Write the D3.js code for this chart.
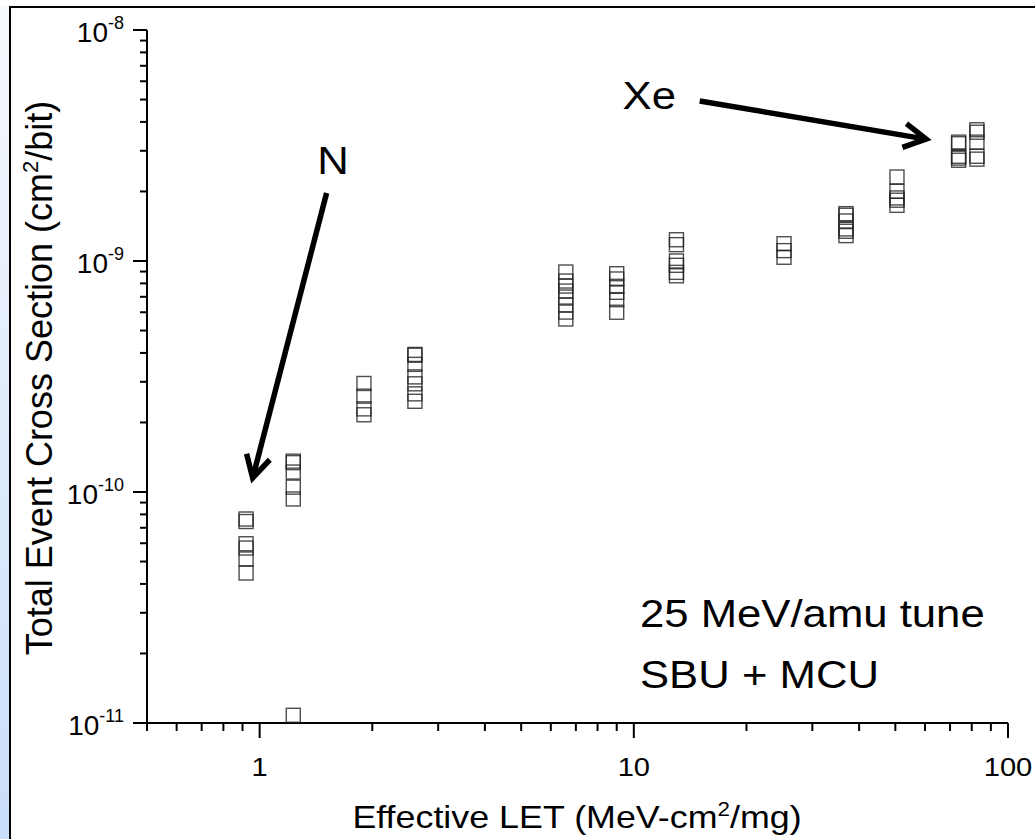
<!DOCTYPE html>
<html>
<head>
<meta charset="utf-8">
<script src="https://cdn.jsdelivr.net/npm/d3@7"></script>
<style>
  body { margin: 0; background: #fff; }
  svg { display: block; font-family: Arial, "Liberation Sans", sans-serif; }
</style>
</head>
<body>
<svg id="chart"></svg>
<script>
// LET column for each group of measurements (MeV-cm2/mg)
const letValues = [0.92, 1.23, 1.90, 2.60, 6.58, 9.0, 13.0, 25.2, 36.9, 50.5, 73.8, 82.6];

// cross sections measured at each LET (cm2/bit)
const crossSections = [
  [7.64e-11, 7.45e-11, 5.97e-11, 5.72e-11, 5.13e-11, 4.46e-11],
  [1.36e-10, 1.34e-10, 1.22e-10, 1.05e-10, 9.33e-11, 1.08e-11],
  [2.95e-10, 2.60e-10, 2.29e-10, 2.16e-10],
  [3.94e-10, 3.91e-10, 3.57e-10, 3.15e-10, 2.94e-10, 2.66e-10, 2.47e-10],
  [8.96e-10, 8.19e-10, 7.79e-10, 7.41e-10, 6.98e-10, 6.45e-10, 6.01e-10, 5.61e-10],
  [8.81e-10, 8.36e-10, 7.77e-10, 7.32e-10, 6.80e-10, 6.00e-10],
  [1.236e-9, 1.177e-9, 1.00e-9, 9.58e-10, 8.93e-10, 8.63e-10],
  [1.188e-9, 1.109e-9, 1.038e-9],
  [1.603e-9, 1.578e-9, 1.490e-9, 1.377e-9, 1.345e-9, 1.288e-9],
  [2.31e-9, 2.005e-9, 1.875e-9, 1.833e-9, 1.742e-9],
  [3.27e-9, 3.22e-9, 2.84e-9, 2.79e-9, 2.73e-9],
  [3.70e-9, 3.61e-9, 3.27e-9, 2.84e-9, 2.76e-9]
];

const xDomain = [0.5, 100];
const yDomain = [1e-11, 1e-8];
const xTickLabels = ["1", "10", "100"];
const yTickExponents = ["-11", "-10", "-9", "-8"];

// ion annotations: label spot and arrow from -> to, in data units
const ionLabels = [
  { name: "N",  at: [1.57, 2.73e-9], from: [1.51, 1.97e-9], to: [0.958, 1.15e-10] },
  { name: "Xe", at: [11.0, 5.24e-9], from: [15.0, 4.93e-9], to: [60.4, 3.37e-9] }
];
const noteLines = ["25 MeV/amu tune", "SBU + MCU"];

const svgWidth = 1035, svgHeight = 839;
const stretch = 1.12; // slide text is a bit wider than the font

const svg = d3.select("#chart")
  .attr("width", svgWidth)
  .attr("height", svgHeight);

// slide background strip + frame
const grad = svg.append("defs").append("linearGradient")
  .attr("id", "strip").attr("x1", 0).attr("y1", 0).attr("x2", 0).attr("y2", 1);
grad.append("stop").attr("offset", "0%").attr("stop-color", "#f7f9fd");
grad.append("stop").attr("offset", "100%").attr("stop-color", "#c9defa");
svg.append("rect")
  .attr("x", 0).attr("y", 7).attr("width", 10).attr("height", svgHeight - 7)
  .attr("fill", "url(#strip)");
svg.append("path")
  .attr("d", "M10," + svgHeight + "V7H" + svgWidth)
  .attr("fill", "none").attr("stroke", "#000").attr("stroke-width", 2);

const x = d3.scaleLog().domain(xDomain).range([147, 1008]);
const y = d3.scaleLog().domain(yDomain).range([723, 30]);

const isDecade = d => Math.abs(Math.log10(d) - Math.round(Math.log10(d))) < 1e-9;

const wideText = (sel, px, py) => sel.append("text")
  .attr("transform", "translate(" + px + "," + py + ") scale(" + stretch + ",1)");

// x axis
const xAxis = svg.append("g");
xAxis.append("line")
  .attr("x1", x.range()[0] - 14).attr("x2", x.range()[1])
  .attr("y1", y(yDomain[0])).attr("y2", y(yDomain[0]))
  .attr("stroke", "#000").attr("stroke-width", 2);
xAxis.selectAll(".xt")
  .data(x.ticks())
  .enter().append("line")
  .attr("x1", d => x(d)).attr("x2", d => x(d))
  .attr("y1", y(yDomain[0]))
  .attr("y2", d => y(yDomain[0]) + (isDecade(d) ? 15 : 8))
  .attr("stroke", "#000").attr("stroke-width", 2);
x.ticks().filter(isDecade).forEach((d, i) => {
  wideText(xAxis, x(d), y(yDomain[0]) + 53)
    .attr("text-anchor", "middle")
    .attr("font-size", 26)
    .text(xTickLabels[i]);
});

// y axis
const yAxis = svg.append("g");
yAxis.append("line")
  .attr("x1", x.range()[0]).attr("x2", x.range()[0])
  .attr("y1", y.range()[0]).attr("y2", y.range()[1])
  .attr("stroke", "#000").attr("stroke-width", 2);
yAxis.selectAll(".yt")
  .data(y.ticks())
  .enter().append("line")
  .attr("x1", x.range()[0])
  .attr("x2", d => x.range()[0] - (isDecade(d) ? 14 : 7))
  .attr("y1", d => y(d)).attr("y2", d => y(d))
  .attr("stroke", "#000").attr("stroke-width", 2);
y.ticks().filter(isDecade).forEach((d, i) => {
  const t = yAxis.append("text")
    .attr("x", x.range()[0] - 23)
    .attr("y", y(d) + 12)
    .attr("text-anchor", "end")
    .attr("font-size", 28);
  t.append("tspan").text("10");
  t.append("tspan")
    .attr("dy", -13).attr("font-size", 18)
    .text(yTickExponents[i]);
});

// axis titles
const xTitle = wideText(svg, 577, 828)
  .attr("text-anchor", "middle")
  .attr("font-size", 32);
xTitle.append("tspan").text("Effective LET (MeV-cm");
xTitle.append("tspan").attr("dy", -12).attr("font-size", 20).text("2");
xTitle.append("tspan").attr("dy", 12).text("/mg)");

const yTitle = svg.append("text")
  .attr("transform", "translate(52,378) rotate(-90)")
  .attr("text-anchor", "middle")
  .attr("font-size", 36);
yTitle.append("tspan").text("Total Event Cross Section (cm");
yTitle.append("tspan").attr("dy", -14).attr("font-size", 22).text("2");
yTitle.append("tspan").attr("dy", 14).text("/bit)");

// data squares
const points = letValues.flatMap((l, i) => crossSections[i].map(s => ({ l, s })));
svg.append("g").selectAll("rect")
  .data(points)
  .enter().append("rect")
  .attr("x", d => x(d.l) - 7)
  .attr("y", d => y(d.s) - 7)
  .attr("width", 14).attr("height", 14)
  .attr("fill", "none")
  .attr("stroke", "#222")
  .attr("stroke-opacity", 0.8)
  .attr("stroke-width", 1.4);

// ion arrows
const ann = svg.append("g");
ionLabels.forEach(a => {
  const x0 = x(a.from[0]), y0 = y(a.from[1]);
  const x1 = x(a.to[0]), y1 = y(a.to[1]);
  const ang = Math.atan2(y1 - y0, x1 - x0);
  const head = 25, spread = 0.5;
  ann.append("line")
    .attr("x1", x0).attr("y1", y0).attr("x2", x1).attr("y2", y1)
    .attr("stroke", "#000").attr("stroke-width", 5.5);
  ann.append("path")
    .attr("d", "M" + (x1 - head * Math.cos(ang - spread)) + "," + (y1 - head * Math.sin(ang - spread)) +
      "L" + x1 + "," + y1 +
      "L" + (x1 - head * Math.cos(ang + spread)) + "," + (y1 - head * Math.sin(ang + spread)))
    .attr("fill", "none").attr("stroke", "#000").attr("stroke-width", 5.5)
    .attr("stroke-linejoin", "miter");
  wideText(ann, x(a.at[0]), y(a.at[1]) + 14)
    .attr("text-anchor", "middle")
    .attr("font-size", 39)
    .text(a.name);
});

const notes = svg.append("g");
noteLines.forEach((d, i) => {
  wideText(notes, 640, 627 + i * 61)
    .attr("font-size", 39)
    .text(d);
});
</script>
</body>
</html>
